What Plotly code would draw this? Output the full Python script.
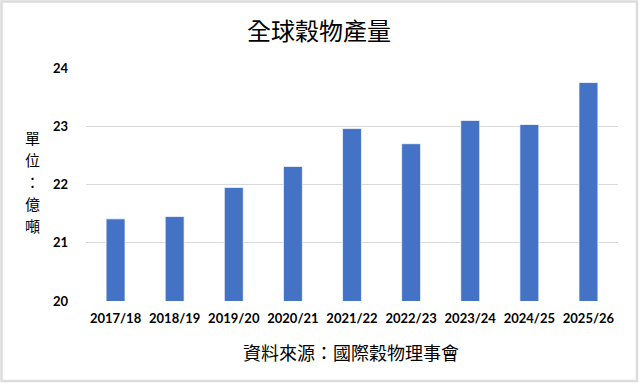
import plotly.graph_objects as go

categories = ["2017/18", "2018/19", "2019/20", "2020/21", "2021/22",
              "2022/23", "2023/24", "2024/25", "2025/26"]
production = [21.41, 21.45, 21.95, 22.31, 22.96, 22.70, 23.10, 23.03, 23.75]
y_ticks = [20, 21, 22, 23, 24]
y_title_chars = ["單", "位", "：", "億", "噸"]

W, H = 640, 384
L, R, T, B = 86, 22, 68, 83
pw, ph = W - L - R, H - T - B

def px_x(px):
    return (px - L) / pw

def px_y(py):
    return (H - B - py) / ph

fig = go.Figure()
fig.add_trace(go.Bar(
    x=categories, y=production,
    marker=dict(color="#4472C4", line=dict(color="rgba(255,255,255,0.7)", width=1)),
    width=0.32,
))

annotations = []
for i, ch in enumerate(y_title_chars):
    annotations.append(dict(
        text=ch, x=px_x(32), y=px_y(137 + i * 22.2),
        xref="paper", yref="paper", showarrow=False,
        xanchor="center", yanchor="middle",
        font=dict(family="Noto Sans CJK TC", size=15, color="#000000")))
annotations.append(dict(
    text="資料來源：國際穀物理事會", x=px_x(351), y=px_y(352),
    xref="paper", yref="paper", showarrow=False,
    xanchor="center", yanchor="middle",
    font=dict(family="Noto Sans CJK TC", size=18, color="#000000")))

fig.update_layout(
    width=W, height=H,
    margin=dict(l=L, r=R, t=T, b=B),
    paper_bgcolor="white", plot_bgcolor="white",
    showlegend=False,
    title=dict(text="全球穀物產量", x=px_x(319), xref="paper", xanchor="center",
               y=1 - 32 / H, yref="container", yanchor="middle",
               font=dict(family="Noto Sans CJK TC", size=24, color="#000000")),
    xaxis=dict(
        type="category", showgrid=False, showline=False, zeroline=False,
        tickfont=dict(family="Lato", size=13, color="#000000", weight="bold"),
        ticks="", ticklabelstandoff=8,
    ),
    yaxis=dict(
        range=[20, 24], tickvals=y_ticks, ticktext=[str(v) for v in y_ticks],
        showgrid=True, gridcolor="#d9d9d9", gridwidth=1,
        showline=False, zeroline=False, ticks="",
        tickfont=dict(family="Lato", size=13, color="#000000", weight="bold"),
        ticklabelstandoff=17,
    ),
    annotations=annotations,
    shapes=[
        dict(type="rect", xref="paper", yref="paper",
             x0=px_x(1.5), x1=px_x(637), y0=px_y(381), y1=px_y(1.5),
             line=dict(color="#dcdcdc", width=2.5), fillcolor="rgba(0,0,0,0)",
             layer="below"),
    ],
)

fig.write_html("out.html")
